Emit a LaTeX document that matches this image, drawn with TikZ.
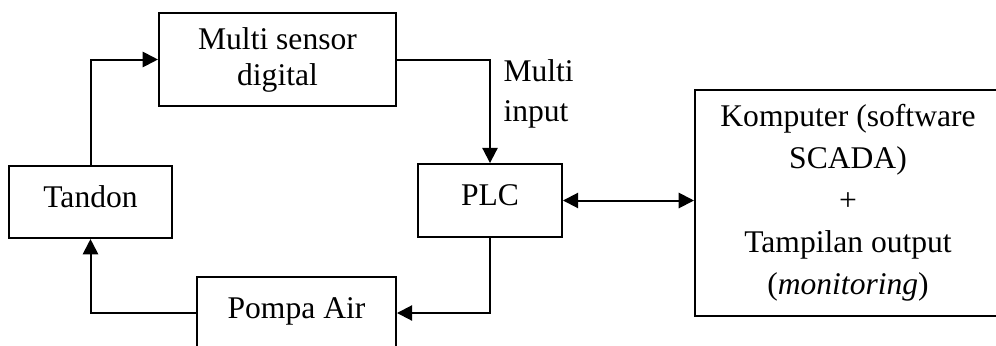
\documentclass[tikz,border=0pt]{standalone}
\usepackage{fontspec}
\setmainfont{Liberation Serif}
\usetikzlibrary{positioning,arrows.meta,calc}
\tikzset{
  pbox/.style={draw,line width=0.76pt,align=center,inner sep=0pt,font=\fontsize{12}{13.7}\selectfont},
  pflow/.style={-{Triangle[length=5.8pt,width=5.8pt]},line width=0.76pt},
  pboth/.style={{Triangle[length=5.8pt,width=5.8pt]}-{Triangle[length=5.8pt,width=5.8pt]},line width=0.76pt}
}
\begin{document}
\begin{tikzpicture}[x=0.38pt,y=-0.38pt]
  \useasboundingbox (0,0) rectangle (996,346);
  \clip (0,0) rectangle (996,346);
  \node[pbox,minimum width=90.1pt,minimum height=35.3pt] (sensor) at (277.5,59.5) {Multi sensor\\digital};
  \node[pbox,minimum width=61.9pt,minimum height=27.4pt,text depth=4pt] (tandon) at (90.5,202) {Tandon};
  \node[pbox,minimum width=54.7pt,minimum height=27.7pt,text depth=4pt] (plc) at (490,200.5) {PLC};
  \node[pbox,minimum width=75.6pt,minimum height=27.4pt,text depth=4pt] (pompa) at (296.5,313) {Pompa Air};
  \node[pbox,minimum width=116.3pt,minimum height=85.9pt,font=\fontsize{12}{16}\selectfont] (komp) at (848,203)
    {Komputer (software\\SCADA)\\+\\Tampilan output\\(\textit{monitoring})};
  \node[align=left,anchor=north west,inner sep=0pt,font=\fontsize{12}{15.2}\selectfont] (lbl) at (503,59) {Multi\\input};
  \draw[pflow] (tandon.north) |- (sensor.west);
  \draw[pflow] (sensor.east) -| (plc.north);
  \draw[pflow] (plc.south) |- (pompa.east);
  \draw[pflow] (pompa.west) -| (tandon.south);
  \draw[pboth] (plc.east) -- (plc.east -| komp.west);
\end{tikzpicture}
\end{document}
